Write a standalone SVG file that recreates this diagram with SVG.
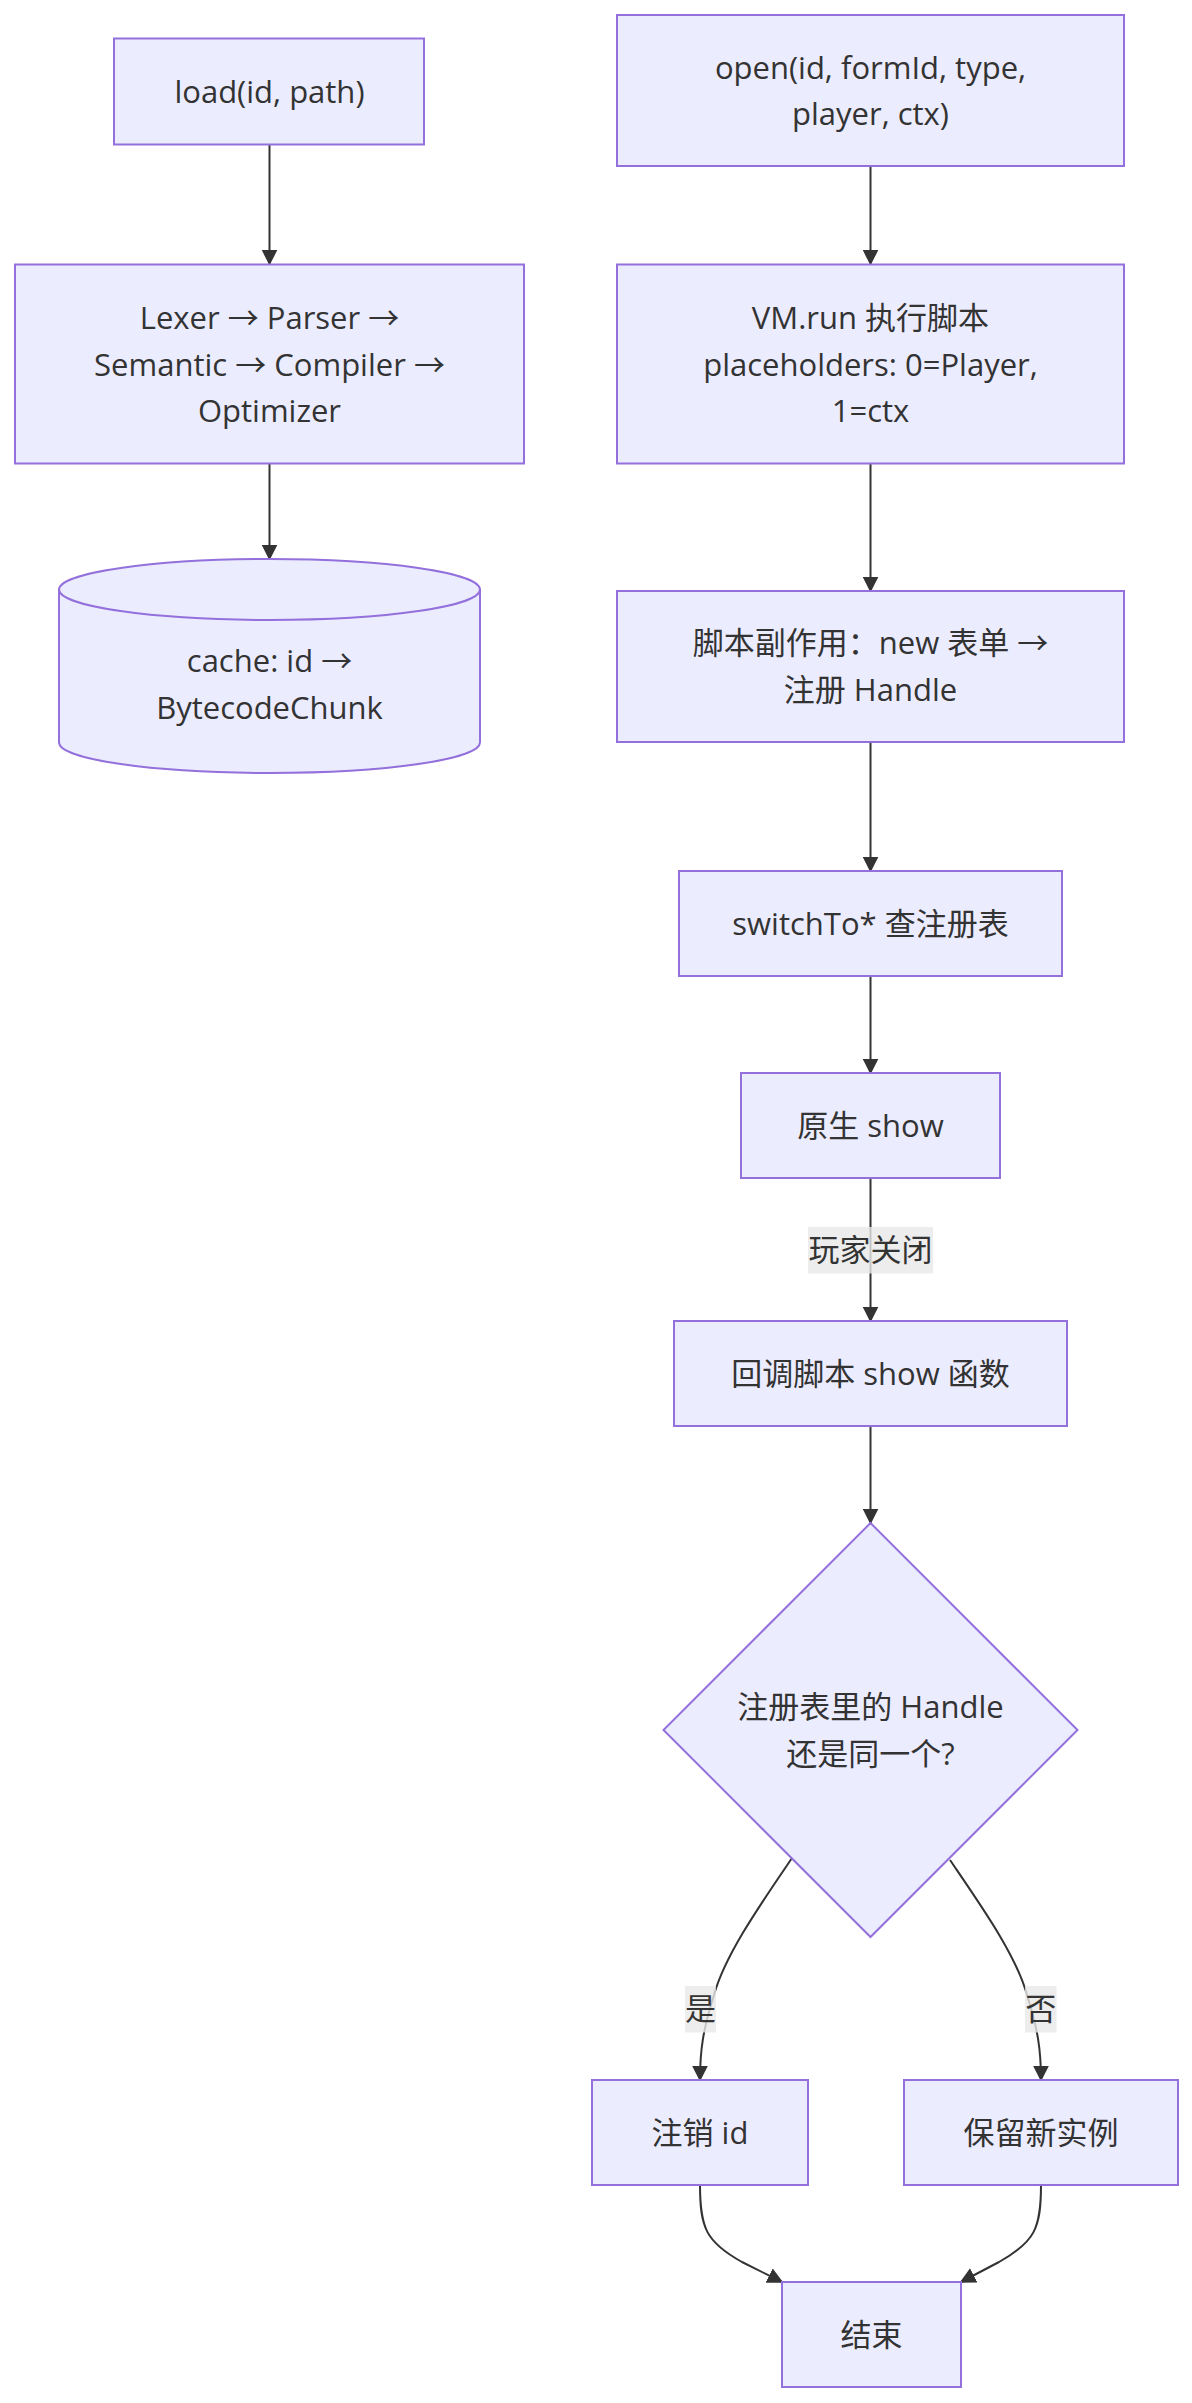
<svg xmlns="http://www.w3.org/2000/svg" width="1192" height="2403" viewBox="0 0 1192 2403">
<style>
.node rect, .node path, .node polygon { fill: #ECECFF; stroke: #9370DB; stroke-width: 2; }
.node text, .lbl text { font-family: "Open Sans", "Noto Sans CJK SC", sans-serif; font-size: 31px; fill: #333333; text-anchor: middle; }
.edges path { fill: none; stroke: #333333; stroke-width: 2; }
.lbl rect { fill: rgba(232,232,232,0.8); stroke: none; }
</style>
<defs>
<marker id="arrow" viewBox="0 0 10 10" refX="9" refY="5" markerUnits="userSpaceOnUse" markerWidth="16" markerHeight="16" orient="auto">
<path d="M0,0 L10,5 L0,10 z" fill="#333333"/>
</marker>
</defs>
<rect width="1192" height="2403" fill="#ffffff"/>
<g class="edges">
<path d="M269.5,145 L269.5,264" marker-end="url(#arrow)"/>
<path d="M269.5,464 L269.5,559" marker-end="url(#arrow)"/>
<path d="M870.5,166 L870.5,264" marker-end="url(#arrow)"/>
<path d="M870.5,463 L870.5,591" marker-end="url(#arrow)"/>
<path d="M870.5,742 L870.5,871" marker-end="url(#arrow)"/>
<path d="M870.5,976 L870.5,1073" marker-end="url(#arrow)"/>
<path d="M870.5,1178 L870.5,1321" marker-end="url(#arrow)"/>
<path d="M870.5,1426 L870.5,1523" marker-end="url(#arrow)"/>
<path d="M792,1858 C760,1905 725,1955 714,1995 C703,2030 700,2050 700,2080" marker-end="url(#arrow)"/>
<path d="M950,1860 C982,1907 1016,1955 1027,1995 C1038,2030 1041,2050 1041,2080" marker-end="url(#arrow)"/>
<path d="M700,2185 C700,2228 706,2242 742,2262 L782,2282" marker-end="url(#arrow)"/>
<path d="M1041,2185 C1041,2228 1035,2242 999,2262 L961,2282" marker-end="url(#arrow)"/>
</g>
<g class="lbl" id="label-close">
<rect x="808" y="1227" width="125" height="46.5"/>
<text x="870.5" y="1261">玩家关闭</text>
</g>
<g class="lbl" id="label-yes">
<rect x="685" y="1986" width="31" height="46.5"/>
<text x="700.5" y="2020">是</text>
</g>
<g class="lbl" id="label-no">
<rect x="1025" y="1986" width="31.5" height="46.5"/>
<text x="1040.7" y="2020">否</text>
</g>
<g class="node" id="load">
<rect x="114" y="38.5" width="310" height="106"/>
<text x="269.5" y="102.5">load(id, path)</text>
</g>
<g class="node" id="pipeline">
<rect x="15" y="264.5" width="509" height="199"/>
<text x="269.5" y="329">Lexer → Parser →</text>
<text x="269.5" y="375.5">Semantic → Compiler →</text>
<text x="269.5" y="422">Optimizer</text>
</g>
<g class="node" id="cache">
<path d="M59,589.5 a210.5,30.5 0 0 0 421,0 a210.5,30.5 0 0 0 -421,0 l0,153 a210.5,30.5 0 0 0 421,0 l0,-153"/>
<text x="269.5" y="672">cache: id →</text>
<text x="269.5" y="718.5">BytecodeChunk</text>
</g>
<g class="node" id="open">
<rect x="617" y="15" width="507" height="151"/>
<text x="870.5" y="78.5">open(id, formId, type,</text>
<text x="870.5" y="125">player, ctx)</text>
</g>
<g class="node" id="vmrun">
<rect x="617" y="264.5" width="507" height="199"/>
<text x="870.5" y="329">VM.run 执行脚本</text>
<text x="870.5" y="375.5">placeholders: 0=Player,</text>
<text x="870.5" y="422">1=ctx</text>
</g>
<g class="node" id="sideeffect">
<rect x="617" y="591" width="507" height="151"/>
<text x="870.5" y="654">脚本副作用：new 表单 →</text>
<text x="870.5" y="700.5">注册 Handle</text>
</g>
<g class="node" id="switchto">
<rect x="679" y="871" width="383" height="105"/>
<text x="870.5" y="934.5">switchTo* 查注册表</text>
</g>
<g class="node" id="nativeshow">
<rect x="741" y="1073" width="259" height="105"/>
<text x="870.5" y="1136.5">原生 show</text>
</g>
<g class="node" id="callback">
<rect x="674" y="1321" width="393" height="105"/>
<text x="870.5" y="1384.5">回调脚本 show 函数</text>
</g>
<g class="node" id="decision">
<polygon points="870.5,1523 1077.5,1730 870.5,1937 663.5,1730"/>
<text x="870.5" y="1718">注册表里的 Handle</text>
<text x="870.5" y="1764.5">还是同一个?</text>
</g>
<g class="node" id="unregister">
<rect x="592" y="2080" width="216" height="105"/>
<text x="700" y="2143.5">注销 id</text>
</g>
<g class="node" id="keepnew">
<rect x="904" y="2080" width="274" height="105"/>
<text x="1041" y="2143.5">保留新实例</text>
</g>
<g class="node" id="end">
<rect x="782" y="2282" width="179" height="105"/>
<text x="871.5" y="2345.5">结束</text>
</g>
</svg>
